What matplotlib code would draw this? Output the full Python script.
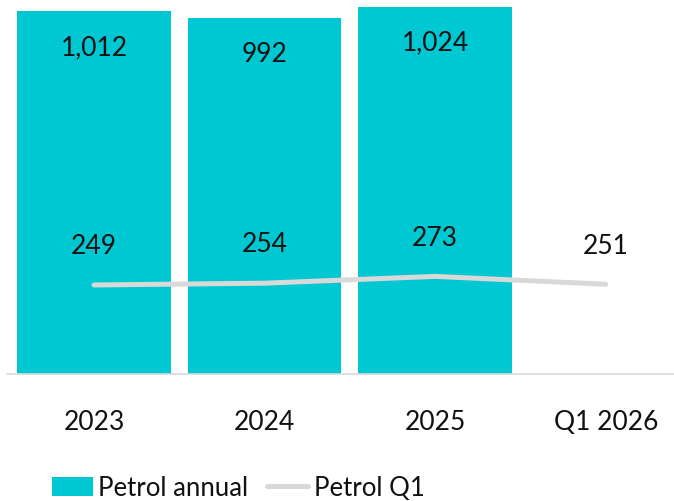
import matplotlib
matplotlib.use("Agg")
import matplotlib.pyplot as plt
from matplotlib.lines import Line2D
from matplotlib.patches import Patch
import numpy as np

# Data
categories = ["2023", "2024", "2025", "Q1 2026"]
annual_years = ["2023", "2024", "2025"]
annual_values = [1012, 992, 1024]
q1_values = [249, 254, 273, 251]

BAR_COLOR = "#00C8D2"
LINE_COLOR = "#D9D9D9"
FONT = ["Lato", "DejaVu Sans"]

plt.rcParams["font.family"] = FONT

fig = plt.figure(figsize=(6.74, 5.01), dpi=100)
ax = fig.add_axes([7 / 674, 1 - 374.3 / 501, 667 / 674, 374.3 / 501])

x = np.arange(len(categories))
xa = np.arange(len(annual_years))
bars = ax.bar(xa, annual_values, width=0.9, color=BAR_COLOR, zorder=1)
ax.plot(x, q1_values, color=LINE_COLOR, lw=3.6, solid_capstyle="round", zorder=2)

for xi, v in zip(xa, annual_values):
    ax.annotate(f"{v:,}", (xi, v), xytext=(0, -26), textcoords="offset points",
                ha="center", va="center", fontsize=19, color="#111111")
for xi, v in zip(x, q1_values):
    ax.annotate(f"{v:,}", (xi, v), xytext=(0, 27.5), textcoords="offset points",
                ha="center", va="center", fontsize=19, color="#111111")

ax.set_xlim(-0.51, 3.40)
ax.set_ylim(0, 1043.5)
ax.set_xticks(x)
ax.set_xticklabels(categories, fontsize=19, color="#111111")
ax.tick_params(axis="x", length=0, pad=26)
ax.set_yticks([])
for s in ["top", "right", "left"]:
    ax.spines[s].set_visible(False)
ax.spines["bottom"].set_color("#D9D9D9")
ax.spines["bottom"].set_linewidth(1.2)

handles = [Patch(facecolor=BAR_COLOR, label="Petrol annual"),
           Line2D([0], [0], color=LINE_COLOR, lw=3.6, solid_capstyle="round", label="Petrol Q1")]
fig.legend(handles=handles, loc="center", bbox_to_anchor=(238 / 674, 1 - 488 / 501),
           ncol=2, frameon=False, fontsize=18.5, handlelength=1.6, handleheight=0.8,
           handletextpad=0.2, columnspacing=0.75, labelcolor="#111111",
           borderpad=0, borderaxespad=0)

fig.savefig("out.png", dpi=100)
